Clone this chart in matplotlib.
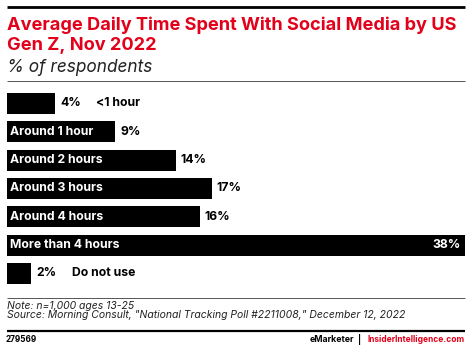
import matplotlib

matplotlib.use("Agg")
import matplotlib.pyplot as plt
from matplotlib.lines import Line2D

# data
categories = [
    "<1 hour",
    "Around 1 hour",
    "Around 2 hours",
    "Around 3 hours",
    "Around 4 hours",
    "More than 4 hours",
    "Do not use",
]
values = [4, 9, 14, 17, 16, 38, 2]
# bars too short to hold their own label get it written outside
inside_label = [False, True, True, True, True, True, False]

title = "Average Daily Time Spent With Social Media by US\nGen Z, Nov 2022"
subtitle = "% of respondents"
note = "Note: n=1,000 ages 13-25"
source = 'Source: Morning Consult, "National Tracking Poll #2211008," December 12, 2022'
chart_id = "279569"

RED = "#e2001a"
W, H = 470, 350

plt.rcParams["font.family"] = ["Inter", "DejaVu Sans"]

fig = plt.figure(figsize=(W / 100, H / 100), dpi=100)
renderer = fig.canvas.get_renderer()


def fx(px):
    return px / W


def fy(py):
    # py measured from the top of the picture
    return 1 - py / H


def hline(y, x0, x1, color, lw):
    fig.add_artist(
        Line2D([fx(x0), fx(x1)], [fy(y), fy(y)], color=color, linewidth=lw,
               transform=fig.transFigure, solid_capstyle="butt")
    )


def fit(txt, width_px):
    # scale the font so the text spans the same width as in the reference
    w = txt.get_window_extent(renderer).width
    txt.set_fontsize(txt.get_fontsize() * width_px / w)
    return txt


# header
hline(7, 7, 465, "black", 2.0)
t1 = fig.text(fx(7), fy(29.5), title.split("\n")[0], color=RED, fontsize=12,
              fontweight="bold", va="baseline", ha="left")
fit(t1, 448)
fig.text(fx(7), fy(50.5), title.split("\n")[1], color=RED, fontsize=t1.get_fontsize(),
         fontweight="bold", va="baseline", ha="left")
sub = fig.text(fx(7), fy(72.5), subtitle, color="#222222", fontsize=11,
               fontstyle="italic", va="baseline", ha="left")
fit(sub, 145)
hline(80.5, 7, 465, "#555555", 0.7)

# bars
slot = 28.33
top = 89.3
n = len(categories)
ax = fig.add_axes([fx(7), fy(top + n * slot), fx(458), fy(top) - fy(top + n * slot)])
ypos = list(range(n))
ax.barh(ypos, values, height=21 / slot, color="black", edgecolor="none")
ax.set_xlim(0, 38)
ax.set_ylim(n - 0.5, -0.5)
ax.axis("off")

probe = fig.text(0, 0, "Around 1 hour", fontsize=9, fontweight="bold")
fit(probe, 83)
label_size = probe.get_fontsize()
probe.remove()

px_per_unit = 458 / 38.0
for i, (cat, val, inside) in enumerate(zip(categories, values, inside_label)):
    if val == max(values):
        ax.text(val - 4 / px_per_unit, i, f"{val}%", color="white", fontsize=label_size,
                fontweight="bold", va="center", ha="right")
    else:
        ax.text(val + 5 / px_per_unit, i, f"{val}%", color="black", fontsize=label_size,
                fontweight="bold", va="center", ha="left")
    if inside:
        ax.text(2.5 / px_per_unit, i, cat, color="white", fontsize=label_size,
                fontweight="bold", va="center", ha="left")
    else:
        ax.text(val + 41 / px_per_unit, i, cat, color="black", fontsize=label_size,
                fontweight="bold", va="center", ha="left")

# footer
hline(297.5, 7, 465, "#555555", 0.7)
nt = fig.text(fx(7), fy(306.3), note, color="#222222", fontsize=7,
              fontstyle="italic", va="center", ha="left")
fit(nt, 128)
st = fig.text(fx(7), fy(314.8), source, color="#222222", fontsize=7,
              fontstyle="italic", va="center", ha="left")
fit(st, 400)
hline(330.8, 7, 465, "black", 1.6)
cid = fig.text(fx(6), fy(339.5), chart_id, color="black", fontsize=6.2,
               fontweight="bold", va="center", ha="left")
fit(cid, 31)
brand = fig.text(fx(465), fy(339.5), "InsiderIntelligence.com", color=RED,
                 fontsize=6.6, fontweight="bold", va="center", ha="right")
fit(brand, 97)
fig.text(fx(360), fy(339.5), "|", color="black", fontsize=brand.get_fontsize(),
         fontweight="bold", va="center", ha="center")
em = fig.text(fx(354), fy(339.5), "eMarketer", color="black",
              fontsize=brand.get_fontsize(), fontweight="bold", va="center", ha="right")
fit(em, 45)

fig.savefig("out.png", dpi=100)
